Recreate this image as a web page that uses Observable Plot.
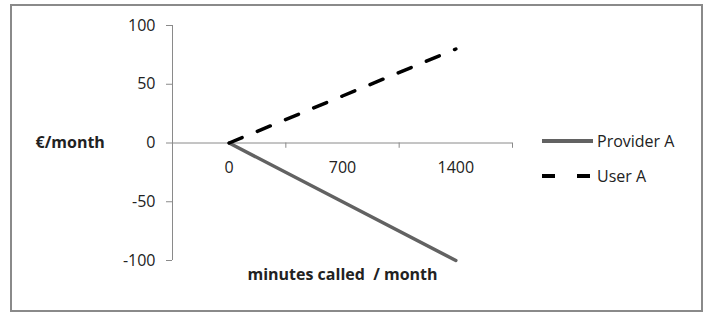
<!DOCTYPE html>
<html><head><meta charset="utf-8">
<script src="https://cdn.jsdelivr.net/npm/d3@7"></script>
<script src="https://cdn.jsdelivr.net/npm/@observablehq/plot@0.6"></script>
<style>
body{margin:0;background:#fff;}
#wrap{position:relative;width:703px;height:312px;font-family:"Open Sans",sans-serif;color:#222;}
#border{position:absolute;left:10px;top:4px;width:693px;height:308px;box-sizing:border-box;border:2px solid #8a8a8a;pointer-events:none;}
#chart{position:absolute;left:0;top:0;}
#legend{position:absolute;left:540px;top:123px;font-size:16px;}
.item{display:flex;align-items:center;height:35px;}
.item svg{margin-right:3px;}
</style></head>
<body><div id="wrap"><div id="chart"></div><div id="legend"></div><div id="border"></div></div>
<script>
const minutes = [0, 700, 1400];
const xTickLabels = ["0", "700", "1400"];
const providerA = [0, -50, -100];
const userA = [0, 40, 80];
const yTicks = [-100, -50, 0, 50, 100];
const xDomain = [-350, 1750];
const xBoundaries = [350, 1050, 1750];
const seriesNames = ["Provider A", "User A"];
const axisColor = "#8a8a8a";
const providerColor = "#626262";
const userColor = "#000000";

const providerData = minutes.map((m, i) => ({minutes: m, value: providerA[i]}));
const userData = minutes.map((m, i) => ({minutes: m, value: userA[i]}));

const chart = Plot.plot({
  width: 703, height: 312,
  marginLeft: 172, marginRight: 191, marginTop: 25, marginBottom: 52,
  style: {fontFamily: "'Open Sans', sans-serif", fontSize: "16px", color: "#222", background: "transparent"},
  x: {domain: xDomain, axis: null},
  y: {domain: [-100, 100], axis: null},
  marks: [
    Plot.ruleX([xDomain[0]], {stroke: axisColor, strokeWidth: 1}),
    Plot.axisY({ticks: yTicks, tickSize: 6, tickPadding: 11, stroke: axisColor, fontSize: 16, label: null, tickFormat: d => d}),
    Plot.ruleY([0], {x1: xDomain[0], x2: xDomain[1], stroke: axisColor, strokeWidth: 1}),
    Plot.ruleX(xBoundaries, {y1: 0, y2: -4.5, stroke: axisColor, strokeWidth: 1}),
    Plot.text(minutes, {x: d => d, y: 0, text: (d, i) => xTickLabels[i], dy: 25, fontSize: 16}),
    Plot.text(["€/month"], {frameAnchor: "left", dx: -137, textAnchor: "start", fontWeight: "bold", fontSize: 16}),
    Plot.text(["minutes called\u00a0 / month"], {frameAnchor: "bottom", dy: 19, fontWeight: "bold", fontSize: 16}),
    Plot.line(providerData, {x: "minutes", y: "value", stroke: providerColor, strokeWidth: 3.5}),
    Plot.line(userData, {x: "minutes", y: "value", stroke: userColor, strokeWidth: 3.5, strokeDasharray: "14,16.5", strokeLinecap: "round"})
  ]
});
document.getElementById("chart").appendChild(chart);

const legend = document.getElementById("legend");
const styles = [
  {stroke: providerColor, dash: null},
  {stroke: userColor, dash: "13,22"}
];
seriesNames.forEach((name, i) => {
  const s = styles[i];
  const div = document.createElement("div");
  div.className = "item";
  div.innerHTML = `<svg width="54" height="8"><line x1="2" x2="53" y1="4" y2="4" stroke="${s.stroke}" stroke-width="4" ${s.dash ? `stroke-dasharray="${s.dash}"` : ""}/></svg><span>${name}</span>`;
  legend.appendChild(div);
});
</script>
</body></html>
